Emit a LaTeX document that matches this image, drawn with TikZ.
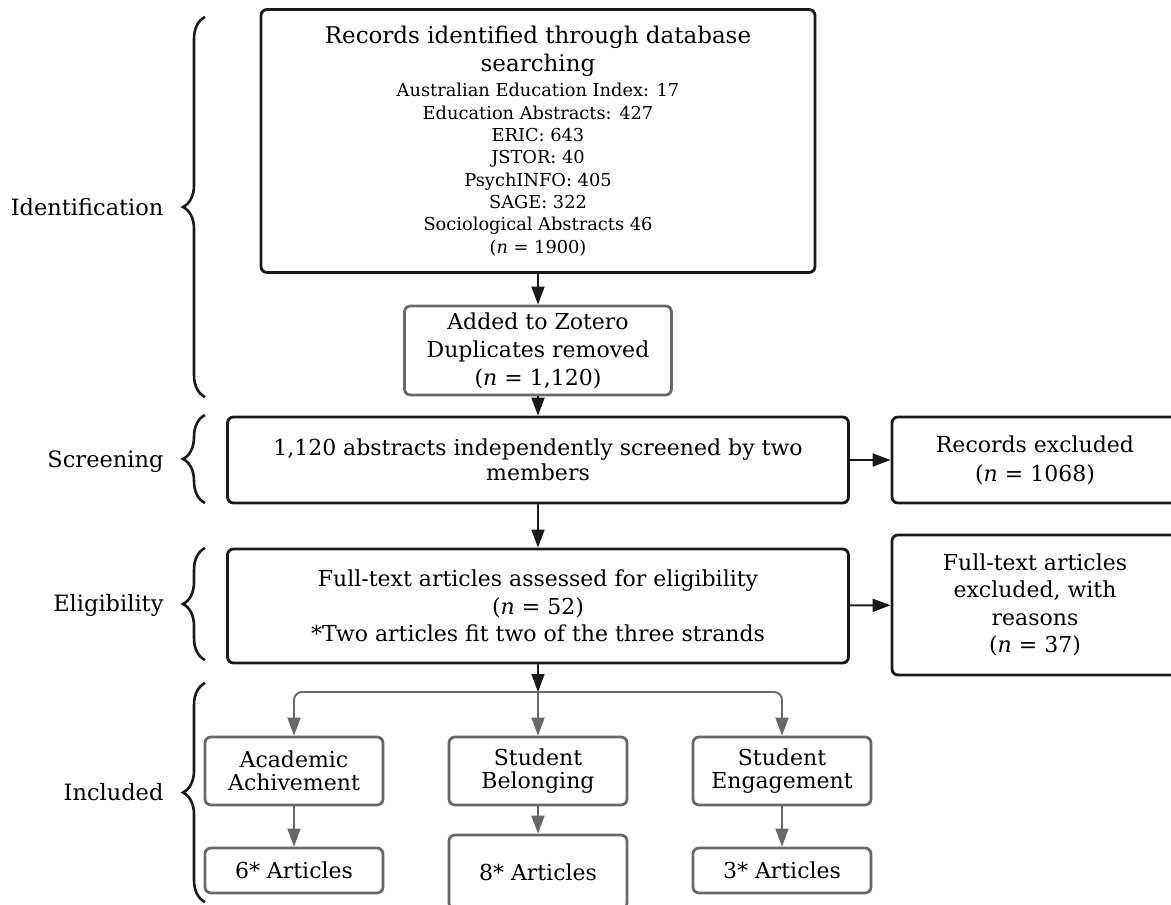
\documentclass[tikz,border=0pt]{standalone}
\usepackage{fontspec}
\setmainfont{DejaVu Serif}
\usetikzlibrary{positioning,arrows.meta,decorations.pathreplacing}
\definecolor{boxline}{HTML}{1A1A1A}
\definecolor{greyline}{HTML}{686868}
\tikzset{
  mainbox/.style={draw=boxline,rounded corners=6pt,align=center,line width=2.8pt,
    font=\fontsize{22}{27.5}\selectfont,inner sep=4pt},
  greybox/.style={mainbox,draw=greyline},
  stagebox/.style={greybox,minimum width=178pt,font=\fontsize{22}{23}\selectfont},
  flow/.style={-{Triangle[length=18pt,width=13pt]},line width=1.9pt,draw=boxline},
  greyflow/.style={flow,draw=greyline},
  phase/.style={font=\fontsize{22.5}{24}\selectfont,anchor=east},
  phasebrace/.style={decorate,decoration={brace,amplitude=22pt},line width=2.6pt,draw=boxline},
}
\begin{document}
\begin{tikzpicture}[x=1pt,y=-1pt]
  \useasboundingbox (0,0) rectangle (1171,905);
  % main column
  \node[mainbox,minimum width=554pt,minimum height=263pt,font=\fontsize{17.8}{22.3}\selectfont]
    (records) at (538,141)
    {\fontsize{23}{28}\selectfont Records identified through database\\[4pt]
     \fontsize{23}{28}\selectfont searching\\[3.5pt]
     Australian Education Index: 17\\
     Education Abstracts: 427\\ ERIC: 643\\ JSTOR: 40\\ PsychINFO: 405\\
     SAGE: 322\\ Sociological Abstracts 46\\ (\textit{n} = 1900)};
  \node[greybox,minimum width=267pt,minimum height=89pt,font=\fontsize{22}{28}\selectfont]
    (dedup) at (538,350.5)
    {Added to Zotero\\Duplicates removed\\(\textit{n} = 1,120)};
  \node[mainbox,minimum width=621pt,minimum height=86pt,font=\fontsize{22}{25}\selectfont]
    (screen) at (538,460)
    {1,120 abstracts independently screened by two\\members};
  \node[mainbox,minimum width=621pt,minimum height=114pt] (elig) at (538,606)
    {Full-text articles assessed for eligibility\\(\textit{n} = 52)\\
     *Two articles fit two of the three strands};
  % exclusions
  \node[mainbox,minimum width=286pt,minimum height=86pt,font=\fontsize{22}{29}\selectfont]
    (recexcl) at (1035,460) {Records excluded\\(\textit{n} = 1068)};
  \node[mainbox,minimum width=286pt,minimum height=140pt] (ftexcl) at (1035,605)
    {Full-text articles\\excluded, with\\reasons\\(\textit{n} = 37)};
  % strands
  \node[stagebox,minimum height=68pt] (acad) at (294,771) {Academic\\Achivement};
  \node[stagebox,minimum height=68pt] (belong) at (538,771) {Student\\Belonging};
  \node[stagebox,minimum height=68pt] (engage) at (782,771) {Student\\Engagement};
  \node[stagebox,minimum height=45pt] (acadn) at (294,870.5) {6* Articles};
  \node[stagebox,minimum height=74pt] (belongn) at (538,872) {8* Articles};
  \node[stagebox,minimum height=45pt] (engagen) at (782,870.5) {3* Articles};
  \coordinate (split) at (538,692);
  % arrows
  \draw[flow] (records) -- (dedup);
  \draw[flow] (dedup) -- (screen);
  \draw[flow] (screen) -- (recexcl);
  \draw[flow] (screen) -- (elig);
  \draw[flow] (elig) -- (ftexcl);
  \draw[flow] (elig) -- (split);
  \draw[greyflow,rounded corners=8pt] (split) -| (acad);
  \draw[greyflow,rounded corners=8pt] (split) -| (engage);
  \draw[greyflow] (split) -- (belong);
  \draw[greyflow] (acad) -- (acadn);
  \draw[greyflow] (belong) -- (belongn);
  \draw[greyflow] (engage) -- (engagen);
  % phases
  \coordinate (idtop) at (205,17);    \coordinate (idbot) at (205,397);
  \coordinate (sctop) at (205,415);   \coordinate (scbot) at (205,503);
  \coordinate (eltop) at (205,548);   \coordinate (elbot) at (205,660);
  \coordinate (intop) at (205,683);   \coordinate (inbot) at (205,902);
  \draw[phasebrace] (idbot) -- (idtop);
  \draw[phasebrace] (scbot) -- (sctop);
  \draw[phasebrace] (elbot) -- (eltop);
  \draw[phasebrace] (inbot) -- (intop);
  \node[phase] (lblid) at (167,207) {Identification};
  \node[phase] (lblsc) at (167,462) {Screening};
  \node[phase] (lblel) at (167,605) {Eligibility};
  \node[phase] (lblin) at (167,792) {Included};
\end{tikzpicture}
\end{document}
